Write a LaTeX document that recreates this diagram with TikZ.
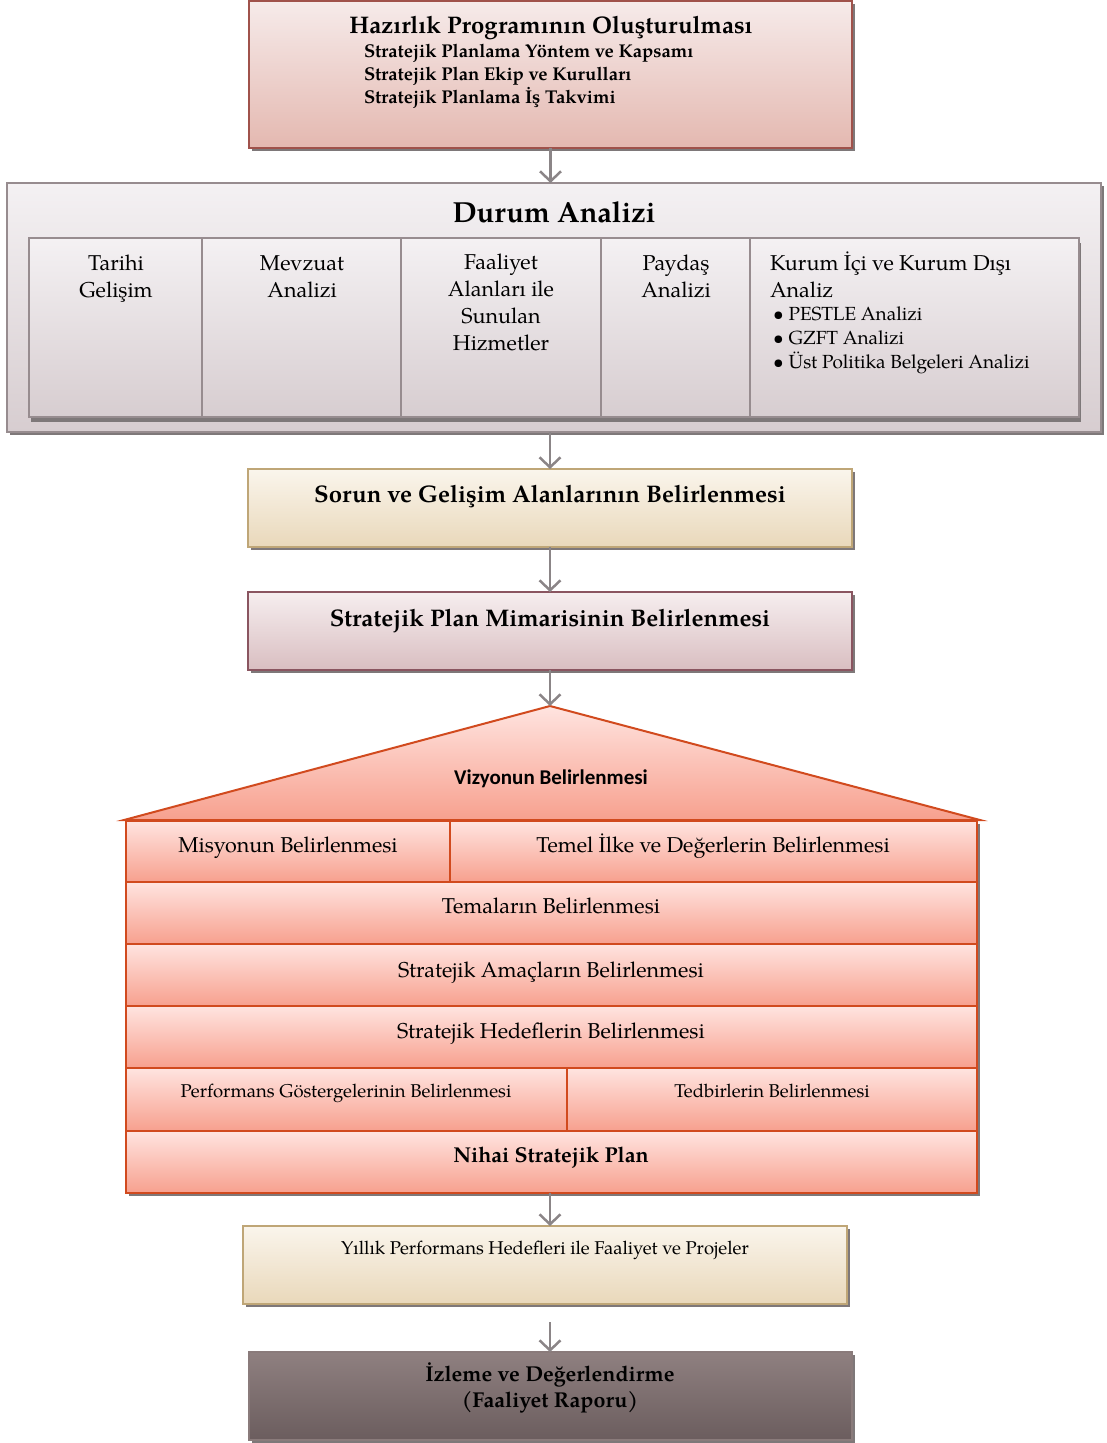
\documentclass[tikz,border=0pt]{standalone}
\usepackage{fontspec}
\setmainfont{texgyrepagella}[Extension=.otf,UprightFont=*-regular,BoldFont=*-bold,ItalicFont=*-italic,BoldItalicFont=*-bolditalic]
\newfontfamily\vizfont{Carlito}
\usetikzlibrary{arrows.meta,shadows}
\definecolor{hzTop}{HTML}{F6EBEA}\definecolor{hzBot}{HTML}{E4B8B0}\definecolor{hzLine}{HTML}{A0524B}
\definecolor{daTop}{HTML}{F4F1F3}\definecolor{daBot}{HTML}{D7CDD0}\definecolor{daLine}{HTML}{978C8F}
\definecolor{soTop}{HTML}{FAF5EC}\definecolor{soBot}{HTML}{E9D8BA}\definecolor{soLine}{HTML}{BFA677}
\definecolor{spTop}{HTML}{F6EEEF}\definecolor{spBot}{HTML}{D9BEC1}\definecolor{spLine}{HTML}{8A5560}
\definecolor{rfTop}{HTML}{FFE4E0}\definecolor{rfBot}{HTML}{F7A08E}\definecolor{rfLine}{HTML}{D14A1E}
\definecolor{izTop}{HTML}{8F8080}\definecolor{izBot}{HTML}{6B5D5E}\definecolor{izLine}{HTML}{8A7B7B}
\definecolor{arrGray}{HTML}{8B8587}\definecolor{shGray}{HTML}{7E7879}
\newcommand{\fs}[2]{\fontsize{#1}{#2}\selectfont}
\begin{document}
\begin{tikzpicture}[x=1pt,y=-1pt,
  box/.style={draw, line width=1.5pt, outer sep=0pt, inner sep=0pt, anchor=north west},
  shad/.style={drop shadow={shadow xshift=3pt,shadow yshift=-3pt,fill=shGray,opacity=1}},
  hzbox/.style={box, shad, draw=hzLine, top color=hzTop, bottom color=hzBot},
  dabox/.style={box, shad, draw=daLine, top color=daTop, bottom color=daBot},
  colbox/.style={box, drop shadow={shadow xshift=2pt,shadow yshift=-4.5pt,fill=shGray,opacity=1}, draw=daLine, top color=daTop, bottom color=daBot},
  sobox/.style={box, shad, draw=soLine, top color=soTop, bottom color=soBot},
  spbox/.style={box, shad, draw=spLine, top color=spTop, bottom color=spBot},
  rfbox/.style={box, draw=rfLine, line width=2pt, top color=rfTop, bottom color=rfBot},
  izbox/.style={box, shad, draw=izLine, top color=izTop, bottom color=izBot},
  arr/.style={draw=arrGray, line width=2.5pt, -{Straight Barb[length=10pt,width=21pt]}},
  txt/.style={inner sep=0pt, outer sep=0pt, anchor=base, align=center}
]
\useasboundingbox (0,0) rectangle (1106,1443);

% Hazirlik (multi-line nodes: base = baseline of last line)
\node[hzbox, minimum width=603pt, minimum height=147pt] (hz) at (249,1) {};
\node[txt, font=\fs{24}{28}\bfseries] (hzt) at (551,33) {Hazırlık Programının Oluşturulması};
\node[txt, anchor=base west, align=left, font=\fs{18.5}{23}\bfseries] (hzs) at (364,103) {Stratejik Planlama Yöntem ve Kapsamı\\ Stratejik Plan Ekip ve Kurulları\\ Stratejik Planlama İş Takvimi};

% Durum Analizi
\node[dabox, minimum width=1094pt, minimum height=249pt] (da) at (7,183) {};
\node[txt, font=\fs{29}{32}\bfseries] (dat) at (554,222) {Durum Analizi};
\node[colbox, minimum width=173pt, minimum height=179pt] (c1) at (29,238) {};
\node[colbox, minimum width=199pt, minimum height=179pt] (c2) at (202,238) {};
\node[colbox, minimum width=200pt, minimum height=179pt] (c3) at (401,238) {};
\node[colbox, minimum width=149pt, minimum height=179pt] (c4) at (601,238) {};
\node[colbox, minimum width=329pt, minimum height=179pt] (c5) at (750,238) {};
\tikzset{coltxt/.style={txt, font=\fs{21.5}{26.7}}}
\node[coltxt] (c1t) at (116,297) {Tarihi\\Gelişim};
\node[coltxt] (c2t) at (302,297) {Mevzuat\\Analizi};
\node[coltxt] (c3t) at (501,350) {Faaliyet\\Alanları ile\\Sunulan\\Hizmetler};
\node[coltxt] (c4t) at (676,297) {Paydaş\\Analizi};
\node[coltxt, anchor=base west, align=left] (c5t) at (770,297) {Kurum İçi ve Kurum Dışı\\Analiz};
\node[txt, anchor=base west, align=left, font=\fs{19}{24}] (c5b) at (773,368) {\textbullet\hspace{5pt}PESTLE Analizi\\\textbullet\hspace{5pt}GZFT Analizi\\\textbullet\hspace{5pt}Üst Politika Belgeleri Analizi};

% Sorun
\node[sobox, minimum width=604pt, minimum height=78pt] (so) at (248,469) {};
\node[txt, font=\fs{24}{28}\bfseries] (sot) at (550,502) {Sorun ve Gelişim Alanlarının Belirlenmesi};

% Stratejik plan mimarisi
\node[spbox, minimum width=604pt, minimum height=78pt] (sp) at (248,592) {};
\node[txt, font=\fs{24}{28}\bfseries] (spt) at (550,626) {Stratejik Plan Mimarisinin Belirlenmesi};

% Roof and house
\coordinate (apex) at (550,706);
\fill[shGray] (129,824) rectangle (980,1196);
\draw[draw=rfLine, line width=2pt, top color=rfTop, bottom color=rfBot, line join=miter] (124,820) -- (apex) -- (980,820) -- cycle;
\node[txt, font=\vizfont\fs{21}{24}\bfseries] (vz) at (551,784) {Vizyonun Belirlenmesi};
\node[rfbox, minimum width=324pt, minimum height=61pt] (r1a) at (126,821) {};
\node[rfbox, minimum width=527pt, minimum height=61pt] (r1b) at (450,821) {};
\node[rfbox, minimum width=851pt, minimum height=62pt] (r2) at (126,882) {};
\node[rfbox, minimum width=851pt, minimum height=62pt] (r3) at (126,944) {};
\node[rfbox, minimum width=851pt, minimum height=62pt] (r4) at (126,1006) {};
\node[rfbox, minimum width=441pt, minimum height=63pt] (r5a) at (126,1068) {};
\node[rfbox, minimum width=410pt, minimum height=63pt] (r5b) at (567,1068) {};
\node[rfbox, minimum width=851pt, minimum height=62pt] (r6) at (126,1131) {};
\tikzset{rowtxt/.style={txt, font=\fs{21.5}{24}}}
\node[rowtxt] (r1at) at (288,852) {Misyonun Belirlenmesi};
\node[rowtxt] (r1bt) at (713,852) {Temel İlke ve Değerlerin Belirlenmesi};
\node[rowtxt] (r2t) at (551,913) {Temaların Belirlenmesi};
\node[rowtxt] (r3t) at (551,977) {Stratejik Amaçların Belirlenmesi};
\node[rowtxt] (r4t) at (551,1038) {Stratejik Hedeflerin Belirlenmesi};
\node[txt, font=\fs{18.5}{22}] (r5at) at (346,1097) {Performans Göstergelerinin Belirlenmesi};
\node[txt, font=\fs{18.5}{22}] (r5bt) at (772,1097) {Tedbirlerin Belirlenmesi};
\node[txt, font=\fs{21.5}{24}\bfseries] (r6t) at (551,1162) {Nihai Stratejik Plan};

% Yillik
\node[sobox, minimum width=604pt, minimum height=78pt] (yl) at (243,1226) {};
\node[txt, font=\fs{18.5}{22}] (ylt) at (545,1254) {Yıllık Performans Hedefleri ile Faaliyet ve Projeler};

% Izleme
\node[izbox, minimum width=603pt, minimum height=88pt] (iz) at (249,1352) {};
\node[txt, font=\fs{21.5}{25.5}\bfseries] (izt) at (550,1407) {İzleme ve Değerlendirme\\(Faaliyet Raporu)};
\coordinate (a6) at (550,1322);

% Connectors
\draw[arr] (hz.south) -- (hz.south |- da.north);
\draw[arr] (so.north |- da.south) -- (so.north);
\draw[arr] (so.south) -- (sp.north);
\draw[arr] (sp.south) -- (apex);
\draw[arr] (a6 |- r6.south) -- (a6 |- yl.north);
\draw[arr] (a6) -- (a6 |- iz.north);
\end{tikzpicture}
\end{document}
